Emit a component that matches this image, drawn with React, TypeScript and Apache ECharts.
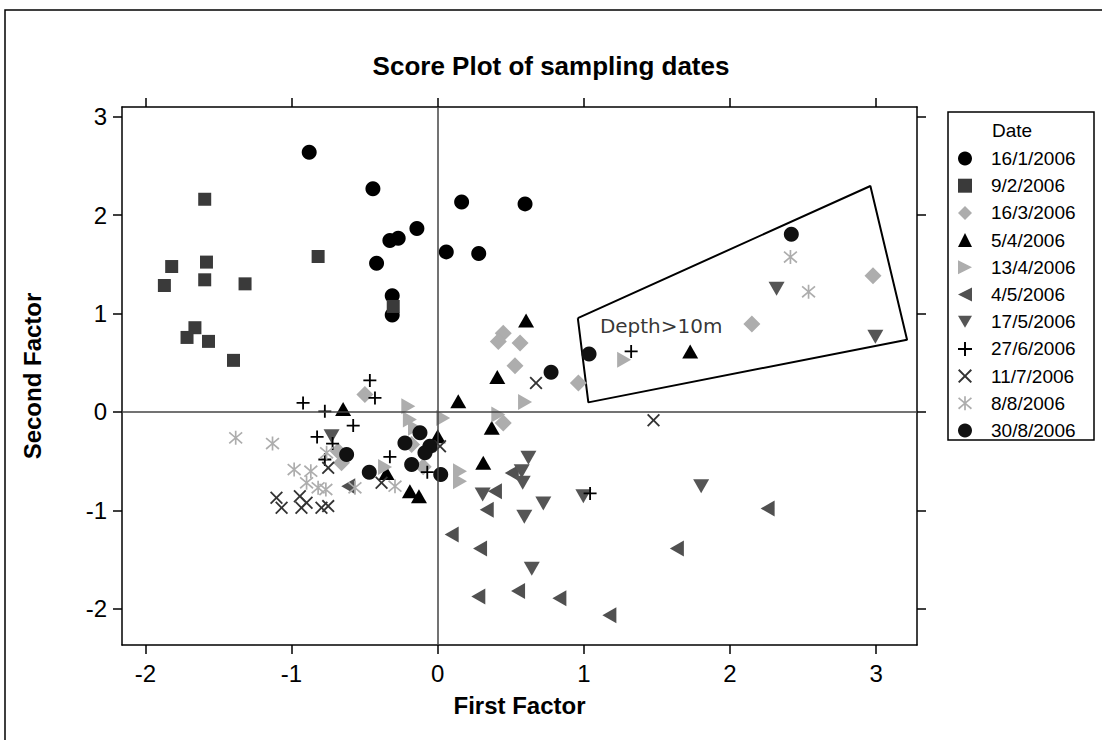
import { useEffect, useRef } from "react";
import * as echarts from "echarts";

const titleText = "Score Plot of sampling dates";
const xName = "First Factor";
const yName = "Second Factor";
const legendTitle = "Date";
const xTicks = [-2, -1, 0, 1, 2, 3];
const yTicks = [-2, -1, 0, 1, 2, 3];

const dates = [
  "16/1/2006", "9/2/2006", "16/3/2006", "5/4/2006", "13/4/2006", "4/5/2006",
  "17/5/2006", "27/6/2006", "11/7/2006", "8/8/2006", "30/8/2006",
];

const d16_1 = [[-0.879, 2.64], [-0.443, 2.27], [0.164, 2.135], [0.598, 2.115], [-0.142, 1.864], [-0.327, 1.742], [-0.27, 1.766], [0.059, 1.627], [0.281, 1.61], [-0.418, 1.512], [-0.311, 1.18], [-0.311, 0.985]];
const d9_2 = [[-1.594, 2.162], [-1.82, 1.478], [-1.582, 1.523], [-1.87, 1.285], [-1.594, 1.343], [-1.318, 1.302], [-0.818, 1.58], [-0.304, 1.072], [-1.661, 0.856], [-1.715, 0.757], [-1.568, 0.717], [-1.397, 0.524]];
const d16_3 = [[2.979, 1.384], [2.15, 0.893], [0.963, 0.294], [0.449, 0.8], [0.415, 0.717], [0.564, 0.7], [0.529, 0.47], [0.449, -0.112], [-0.498, 0.176], [-0.178, -0.332], [-0.099, -0.558], [-0.681, -0.4], [-0.658, -0.518]];
const d5_4 = [[0.605, 0.93], [0.408, 0.355], [0.141, 0.108], [0.37, -0.162], [0.312, -0.518], [1.728, 0.615], [-0.647, 0.03], [0.0, -0.248], [-0.19, -0.806], [-0.128, -0.857], [-0.35, -0.62]];
const d13_4 = [[1.276, 0.531], [0.598, 0.1], [0.038, -0.061], [0.415, -0.027], [0.153, -0.603], [0.153, -0.705], [-0.201, 0.057], [-0.19, -0.078], [-0.155, -0.162], [-0.36, -0.56]];
const d4_5 = [[0.096, -1.246], [0.29, -1.39], [0.278, -1.878], [0.55, -1.82], [0.336, -0.995], [0.392, -0.806], [0.507, -0.62], [0.833, -1.895], [1.175, -2.068], [1.637, -1.39], [2.258, -0.982], [-0.612, -0.755]];
const d17_5 = [[0.621, -0.467], [0.575, -0.603], [0.582, -0.72], [0.308, -0.84], [0.723, -0.931], [0.593, -1.066], [0.997, -0.857], [0.644, -1.594], [1.803, -0.755], [2.319, 1.252], [2.995, 0.764], [-0.726, -0.248]];
const d27_6 = [[-0.921, 0.091], [-0.772, 0.006], [-0.578, -0.139], [-0.825, -0.254], [-0.719, -0.322], [-0.772, -0.484], [-0.464, 0.32], [-0.429, 0.142], [-0.327, -0.457], [-0.071, -0.613], [1.043, -0.829], [1.324, 0.615]];
const d11_7 = [[-1.103, -0.873], [-1.068, -0.975], [-0.943, -0.857], [-0.932, -0.975], [-0.897, -0.924], [-0.795, -0.975], [-0.749, -0.958], [-0.749, -0.569], [-0.384, -0.721], [0.016, -0.349], [0.673, 0.294], [1.477, -0.085]];
const d8_8 = [[-1.382, -0.264], [-1.13, -0.322], [-0.982, -0.586], [-0.868, -0.603], [-0.897, -0.721], [-0.818, -0.772], [-0.765, -0.789], [-0.76, -0.416], [-0.566, -0.772], [-0.292, -0.755], [2.414, 1.574], [2.538, 1.221]];
const d30_8 = [[-0.623, -0.433], [-0.468, -0.613], [-0.224, -0.315], [-0.121, -0.213], [-0.053, -0.349], [-0.087, -0.416], [-0.178, -0.535], [0.021, -0.636], [0.776, 0.402], [1.036, 0.589], [2.42, 1.807]];

const depthPolygon = [[0.959, 0.954], [2.961, 2.297], [3.212, 0.734], [1.031, 0.097], [0.959, 0.954]];
const depthLabel = "Depth>10m";
const depthLabelPos = [[1.11, 0.87]];

const RIGHT = "path://M0,0L10,5L0,10Z";
const LEFT = "path://M10,0L0,5L10,10Z";
const DOWN = "path://M0,0L10,0L5,8.66Z";
const PLUS = "path://M4.3,0H5.7V4.3H10V5.7H5.7V10H4.3V5.7H0V4.3H4.3Z";
const XMARK = "path://M0,1L1,0L5,4L9,0L10,1L6,5L10,9L9,10L5,6L1,10L0,9L4,5Z";
const STAR = "path://M4.4,0H5.6V10H4.4Z M0,1.6L0.8,0.6L5,4.3L9.2,0.6L10,1.6L5.9,5L10,8.4L9.2,9.4L5,5.7L0.8,9.4L0,8.4L4.1,5Z";

const FONT = "'Liberation Sans', Arial, sans-serif";

export default function App() {
  const ref = useRef<HTMLDivElement>(null);
  useEffect(() => {
    if (!ref.current) return;
    const chart = echarts.init(ref.current, null, { renderer: "svg" });
    const specs: any[] = [
      { data: d16_1, symbol: "circle", size: 15, color: "#000000" },
      { data: d9_2, symbol: "rect", size: 13, color: "#3a3a3a" },
      { data: d16_3, symbol: "diamond", size: 17, color: "#adadad" },
      { data: d5_4, symbol: "triangle", size: [16, 14], color: "#000000" },
      { data: d13_4, symbol: RIGHT, size: [14, 16], color: "#adadad" },
      { data: d4_5, symbol: LEFT, size: [14, 16], color: "#505050" },
      { data: d17_5, symbol: DOWN, size: [16, 14], color: "#555555" },
      { data: d27_6, symbol: PLUS, size: 13, color: "#000000" },
      { data: d11_7, symbol: XMARK, size: 13, color: "#333333" },
      { data: d8_8, symbol: STAR, size: 14, color: "#adadad" },
      { data: d30_8, symbol: "circle", size: 15, color: "#111111" },
    ];
    const scatterSeries = specs.map((s, i) => ({
      name: dates[i],
      type: "scatter",
      data: s.data,
      symbol: s.symbol,
      symbolSize: s.size,
      itemStyle: { color: s.color, opacity: 1 },
      z: 3,
      silent: true,
    }));
    const axisLine = { show: true, onZero: false, lineStyle: { color: "#000", width: 1.5 } };
    const tick = (vals: number[]) => ({ show: true, length: 9, customValues: vals, lineStyle: { color: "#000", width: 1.5 } });
    chart.setOption({
      animation: false,
      backgroundColor: "#fff",
      title: {
        text: titleText,
        left: "center",
        top: 48,
        textStyle: { fontFamily: FONT, fontSize: 26, fontWeight: "bold", color: "#000" },
      },
      grid: { left: 122, top: 107, right: 185, bottom: 95 },
      legend: {
        orient: "vertical",
        left: 958,
        top: 149,
        padding: 0,
        itemWidth: 14,
        itemHeight: 14,
        itemGap: 8.2,
        selectedMode: false,
        data: dates,
        textStyle: { fontFamily: FONT, fontSize: 19, color: "#000", lineHeight: 19, padding: [0, 0, 0, 14] },
      },
      xAxis: [
        {
          type: "value", min: -2.16, max: 3.28, name: xName, nameLocation: "middle", nameGap: 48,
          nameTextStyle: { fontFamily: FONT, fontSize: 24, fontWeight: "bold", color: "#000" },
          axisLine, axisTick: tick(xTicks), splitLine: { show: false },
          axisLabel: { customValues: xTicks, margin: 16, fontFamily: FONT, fontSize: 24, color: "#000" },
        },
        {
          type: "value", min: -2.16, max: 3.28, position: "top",
          axisLine, axisTick: tick(xTicks), splitLine: { show: false }, axisLabel: { show: false },
        },
      ],
      yAxis: [
        {
          type: "value", min: -2.37, max: 3.1, name: yName, nameLocation: "middle", nameGap: 78,
          nameTextStyle: { fontFamily: FONT, fontSize: 24, fontWeight: "bold", color: "#000" },
          axisLine, axisTick: tick(yTicks), splitLine: { show: false },
          axisLabel: { customValues: yTicks, margin: 15, fontFamily: FONT, fontSize: 24, color: "#000" },
        },
        {
          type: "value", min: -2.37, max: 3.1, position: "right",
          axisLine, axisTick: tick(yTicks), splitLine: { show: false }, axisLabel: { show: false },
        },
      ],
      series: [
        {
          name: "zero", type: "line", data: [], z: 1, silent: true,
          markLine: {
            silent: true, symbol: "none", label: { show: false },
            lineStyle: { color: "#444", width: 1.5, type: "solid" },
            data: [{ xAxis: 0 }, { yAxis: 0 }],
          },
        },
        {
          name: "depth", type: "line", data: depthPolygon, z: 2, silent: true,
          showSymbol: false, symbol: "none",
          lineStyle: { color: "#000", width: 2 },
        },
        {
          name: "depthLabel", type: "scatter", data: depthLabelPos, symbolSize: 0, silent: true, z: 2,
          label: {
            show: true, position: "right", distance: 0, formatter: depthLabel,
            fontFamily: "'DejaVu Sans', sans-serif", fontSize: 20, color: "#000",
          },
        },
        ...scatterSeries,
      ],
      graphic: [
        {
          type: "rect", shape: { x: 5, y: 10, width: 1200, height: 800 },
          style: { fill: "none", stroke: "#000", lineWidth: 1.5 }, silent: true,
        },
        {
          type: "rect", shape: { x: 948, y: 112, width: 146, height: 328 },
          style: { fill: "none", stroke: "#000", lineWidth: 1.5 }, silent: true,
        },
        {
          type: "text", x: 992, y: 130,
          style: { text: legendTitle, fontFamily: FONT, fontSize: 19, fill: "#000", verticalAlign: "middle", align: "left" },
          silent: true,
        },
      ],
    });
    return () => chart.dispose();
  }, []);
  return (
    <div
      ref={ref}
      style={{ position: "fixed", left: 0, top: 0, width: 1102, height: 740, background: "#fff" }}
    />
  );
}
